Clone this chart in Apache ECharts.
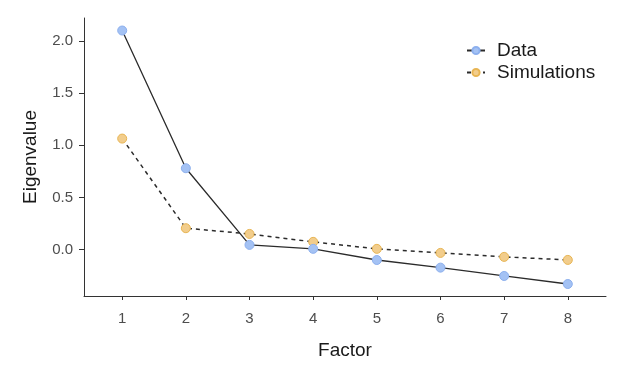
<!DOCTYPE html>
<html>
<head>
<meta charset="utf-8">
<script src="https://cdn.jsdelivr.net/npm/echarts@6/dist/echarts.min.js"></script>
<style>
html,body{margin:0;padding:0;background:#fff;}
#chart{width:625px;height:375px;}
</style>
</head>
<body>
<div id="chart"></div>
<script>
const factors = [1, 2, 3, 4, 5, 6, 7, 8];
const dataValues = [2.10, 0.78, 0.045, 0.007, -0.10, -0.173, -0.253, -0.33];
const simValues = [1.064, 0.205, 0.15, 0.074, 0.007, -0.032, -0.07, -0.099];
const yTicks = [0, 0.5, 1.0, 1.5, 2.0];
const seriesNames = ['Data', 'Simulations'];

const FONT = "'Liberation Sans', Arial, sans-serif";
const chart = echarts.init(document.getElementById('chart'), null, {renderer: 'canvas'});

function pairs(vals) { return factors.map((f, i) => [f, vals[i]]); }

chart.setOption({
  animation: false,
  backgroundColor: '#ffffff',
  grid: {left: 84, right: 19, top: 18, bottom: 79, containLabel: false},
  legend: {
    orient: 'vertical',
    left: 461,
    top: 36,
    itemWidth: 18,
    itemHeight: 9,
    itemGap: 3,
    data: seriesNames,
    textStyle: {fontFamily: FONT, fontSize: 19, color: '#1a1a1a', padding: [0, 0, 0, 7], lineHeight: 19}
  },
  xAxis: {
    type: 'value',
    min: 0.4,
    max: 8.6,
    name: 'Factor',
    nameLocation: 'middle',
    nameGap: 45,
    nameTextStyle: {fontFamily: FONT, fontSize: 19, color: '#1a1a1a'},
    axisLine: {onZero: false, lineStyle: {color: '#333333', width: 1}},
    axisTick: {show: true, length: 4, customValues: factors, lineStyle: {color: '#333333', width: 1}},
    axisLabel: {customValues: factors, margin: 15, fontFamily: FONT, fontSize: 15, color: '#4d4d4d'},
    splitLine: {show: false}
  },
  yAxis: {
    type: 'value',
    min: -0.445,
    max: 2.22,
    name: 'Eigenvalue',
    nameLocation: 'middle',
    nameGap: 44,
    nameTextStyle: {fontFamily: FONT, fontSize: 19, color: '#1a1a1a'},
    axisLine: {show: true, onZero: false, lineStyle: {color: '#333333', width: 1}},
    axisTick: {show: true, length: 5, customValues: yTicks, lineStyle: {color: '#333333', width: 1}},
    axisLabel: {customValues: yTicks, margin: 11, fontFamily: FONT, fontSize: 15, color: '#4d4d4d',
      formatter: v => Number(v).toFixed(1)},
    splitLine: {show: false}
  },
  series: [
    {
      name: seriesNames[0],
      type: 'line',
      data: pairs(dataValues),
      symbol: 'circle',
      symbolSize: 9,
      itemStyle: {color: '#a4c2f4', borderColor: '#8db0ee', borderWidth: 1},
      lineStyle: {color: '#2b2b2b', width: 1.3, type: 'solid'},
      z: 3
    },
    {
      name: seriesNames[1],
      type: 'line',
      data: pairs(simValues),
      symbol: 'circle',
      symbolSize: 9,
      itemStyle: {color: '#f2cd8c', borderColor: '#e8b553', borderWidth: 1},
      lineStyle: {color: '#2b2b2b', width: 1.5, type: [4, 4]},
      z: 2
    }
  ]
});
</script>
</body>
</html>
